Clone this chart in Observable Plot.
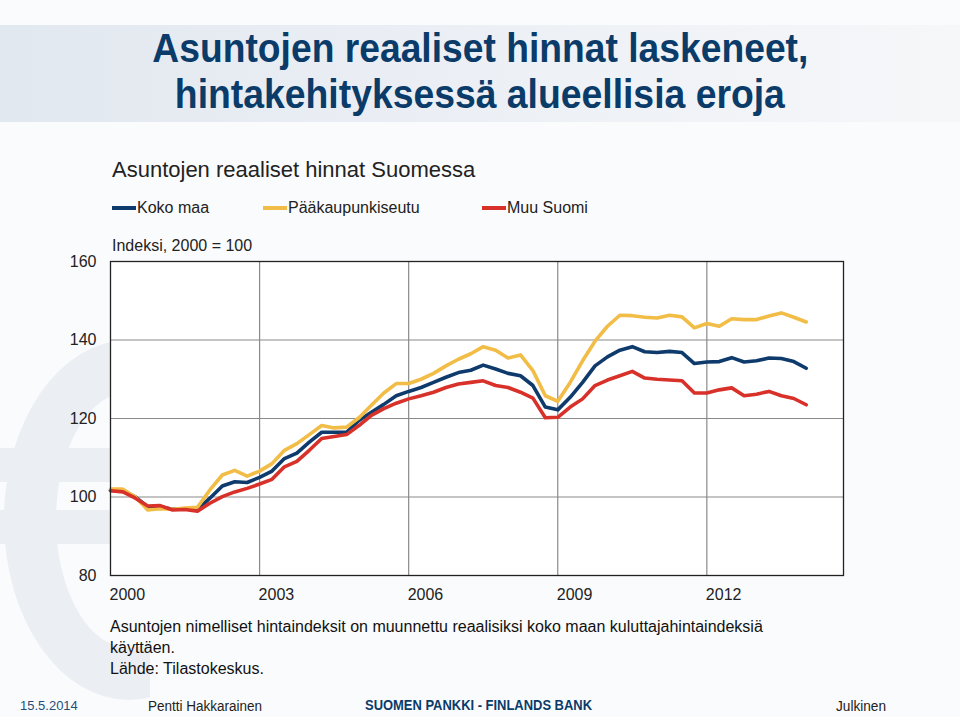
<!DOCTYPE html>
<html>
<head>
<meta charset="utf-8">
<script src="https://cdn.jsdelivr.net/npm/d3@7"></script>
<script src="https://cdn.jsdelivr.net/npm/@observablehq/plot@0.6"></script>
<style>
  html, body { margin: 0; padding: 0; }
  body { width: 960px; height: 717px; position: relative; overflow: hidden; background: #fafbfc;
         font-family: "Liberation Sans", Arial, sans-serif; color: #222; }
  .abs { position: absolute; white-space: nowrap; }
  .fit { display: inline-block; white-space: nowrap; }
</style>
</head>
<body>
<script>
// ---- Data (quarterly, 2000Q1 .. 2014Q1) ----
const seriesNames = ["Koko maa", "Pääkaupunkiseutu", "Muu Suomi"];
const seriesColors = ["#0e3a6c", "#f2bd47", "#d8312a"];
const startYear = 2000;
const xTicks = [2000, 2003, 2006, 2009, 2012];
const yTicks = [80, 100, 120, 140, 160];

const kokoMaa = [101.7, 101.5, 100.0, 97.5, 97.5, 96.9, 96.9, 96.8, 99.7, 102.8, 103.9, 103.7, 105.0,
  106.6, 109.8, 111.2, 114.0, 116.5, 116.5, 116.5, 119.5, 121.6, 123.6, 125.8, 126.9,
  127.9, 129.2, 130.5, 131.7, 132.3, 133.6, 132.6, 131.5, 130.9, 128.4, 122.9, 122.2,
  125.4, 129.2, 133.4, 135.7, 137.4, 138.3, 137.0, 136.8, 137.1, 136.8, 134.0, 134.4, 134.5,
  135.5, 134.4, 134.7, 135.4, 135.3, 134.5, 132.8];
const paakaupunkiseutu = [102.0, 102.0, 100.0, 96.7, 97.0, 96.9, 97.2, 97.4, 101.8, 105.6, 106.8, 105.3, 106.6,
  108.5, 111.9, 113.6, 115.9, 118.2, 117.6, 117.8, 120.2, 123.4, 126.5, 128.9, 128.9,
  130.0, 131.5, 133.4, 135.1, 136.5, 138.3, 137.4, 135.4, 136.2, 132.2, 125.8, 124.4,
  129.2, 134.7, 139.7, 143.5, 146.3, 146.2, 145.8, 145.6, 146.3, 145.9, 143.1, 144.2, 143.5,
  145.4, 145.2, 145.2, 146.1, 146.9, 145.8, 144.6];
const muuSuomi = [101.6, 101.3, 99.7, 97.7, 97.8, 96.7, 96.8, 96.4, 98.4, 100.1, 101.3, 102.2, 103.3,
  104.5, 107.7, 109.1, 111.9, 114.9, 115.4, 115.9, 118.2, 120.8, 122.5, 123.9, 125.0,
  125.8, 126.7, 127.9, 128.8, 129.2, 129.6, 128.4, 127.9, 126.7, 125.2, 120.2, 120.3,
  122.9, 125.0, 128.4, 129.8, 130.9, 132.0, 130.3, 130.0, 129.8, 129.6, 126.5, 126.5, 127.3,
  127.8, 125.8, 126.2, 126.9, 125.8, 125.1, 123.5];

const allSeries = [kokoMaa, paakaupunkiseutu, muuSuomi];
const rows = [];
allSeries.forEach((vals, s) => vals.forEach((v, i) => rows.push({ t: startYear + i / 4, v, s: seriesNames[s] })));
</script>

<!-- title band -->
<div class="abs" style="left:0;top:25px;width:960px;height:97px;background:linear-gradient(90deg,#e2e8f0,#eef1f6 60%,#f6f7f9);"></div>
<!-- euro watermark (shapes) -->
<div class="abs" style="left:0;top:330px;width:420px;height:380px;overflow:hidden;">
  <div style="position:absolute;left:4px;top:10px;width:250px;height:360px;border-radius:50%;border:52px solid #ebeef3;box-sizing:border-box;"></div>
  <div style="position:absolute;left:150px;top:0;width:270px;height:380px;background:#fafbfc;transform:skewX(0deg);"></div>
  <div style="position:absolute;left:0;top:118px;width:300px;height:34px;background:#ebeef3;"></div>
  <div style="position:absolute;left:0;top:180px;width:300px;height:34px;background:#ebeef3;"></div>
</div>

<div class="abs" style="left:0;width:960px;text-align:center;top:28px;font-size:40px;line-height:40px;font-weight:bold;color:#0b3b69;"><span class="fit" data-w="656" data-o="center">Asuntojen reaaliset hinnat laskeneet,</span></div>
<div class="abs" style="left:0;width:960px;text-align:center;top:74px;font-size:40px;line-height:40px;font-weight:bold;color:#0b3b69;"><span class="fit" data-w="610" data-o="center">hintakehityksessä alueellisia eroja</span></div>

<div class="abs" style="left:112px;top:159px;font-size:22px;line-height:22px;color:#222;">Asuntojen reaaliset hinnat Suomessa</div>

<div id="legend"></div>

<div class="abs" style="left:112px;top:238px;font-size:16px;line-height:16px;color:#222;">Indeksi, 2000 = 100</div>

<div id="chart" class="abs" style="left:0;top:250px;"></div>

<div class="abs" style="left:110px;top:616px;font-size:16px;line-height:21px;color:#111;">Asuntojen nimelliset hintaindeksit on muunnettu reaalisiksi koko maan kuluttajahintaindeksiä<br>käyttäen.<br>Lähde: Tilastokeskus.</div>

<div class="abs" style="left:20px;top:699px;font-size:13px;line-height:13px;color:#1f4e7c;">15.5.2014</div>
<div class="abs" style="left:148px;top:699px;font-size:14px;line-height:14px;color:#222;"><span class="fit" data-w="114" data-o="left">Pentti Hakkarainen</span></div>
<div class="abs" style="left:365px;top:698px;font-size:14px;line-height:14px;font-weight:bold;color:#0b3b69;"><span class="fit" data-w="227" data-o="left">SUOMEN PANKKI - FINLANDS BANK</span></div>
<div class="abs" style="left:836px;top:699px;font-size:14px;line-height:14px;color:#222;"><span class="fit" data-w="50" data-o="left">Julkinen</span></div>

<script>
// condensed look: scale texts horizontally to the reference widths
document.querySelectorAll(".fit").forEach(el => {
  const w = el.getBoundingClientRect().width;
  const target = +el.dataset.w;
  el.style.transformOrigin = el.dataset.o === "center" ? "50% 50%" : "0 50%";
  el.style.transform = `scaleX(${target / w})`;
});

// legend
const legendPos = [112, 263, 482];
const legend = document.getElementById("legend");
seriesNames.forEach((name, k) => {
  const sw = document.createElement("div");
  sw.className = "abs";
  sw.style.cssText = `left:${legendPos[k]}px;top:206px;width:24px;height:4px;background:${seriesColors[k]};`;
  legend.appendChild(sw);
  const tx = document.createElement("div");
  tx.className = "abs";
  tx.style.cssText = `left:${legendPos[k] + 25}px;top:200px;font-size:16px;line-height:16px;color:#222;`;
  tx.textContent = name;
  legend.appendChild(tx);
});

const chart = Plot.plot({
  width: 960,
  height: 360,
  marginLeft: 110,
  marginRight: 117,
  marginTop: 11,
  marginBottom: 35,
  style: { fontFamily: "'Liberation Sans', Arial, sans-serif", fontSize: "16px", background: "transparent", color: "#222" },
  x: { domain: [2000, 2014.75] },
  y: { domain: [80, 160] },
  color: { domain: seriesNames, range: seriesColors },
  marks: [
    Plot.frame({ fill: "white", stroke: null }),
    Plot.ruleY(yTicks.filter(d => d > 80 && d < 160), { stroke: "#8a8a8a", strokeWidth: 1.2 }),
    Plot.ruleX(xTicks.filter(d => d > 2000), { stroke: "#8a8a8a", strokeWidth: 1.2 }),
    Plot.line(rows, { x: "t", y: "v", z: "s", stroke: "s", strokeWidth: 3.6, strokeLinejoin: "round" }),
    Plot.frame({ stroke: "#222", strokeWidth: 1.3 }),
    Plot.axisY({ ticks: yTicks, tickSize: 0, tickPadding: 14, label: null, tickFormat: d => String(d) }),
    Plot.axisX({ ticks: xTicks, tickSize: 0, tickPadding: 13, label: null, tickFormat: d => String(d), textAnchor: "start", dx: -1 })
  ]
});
document.getElementById("chart").appendChild(chart);
</script>
</body>
</html>
